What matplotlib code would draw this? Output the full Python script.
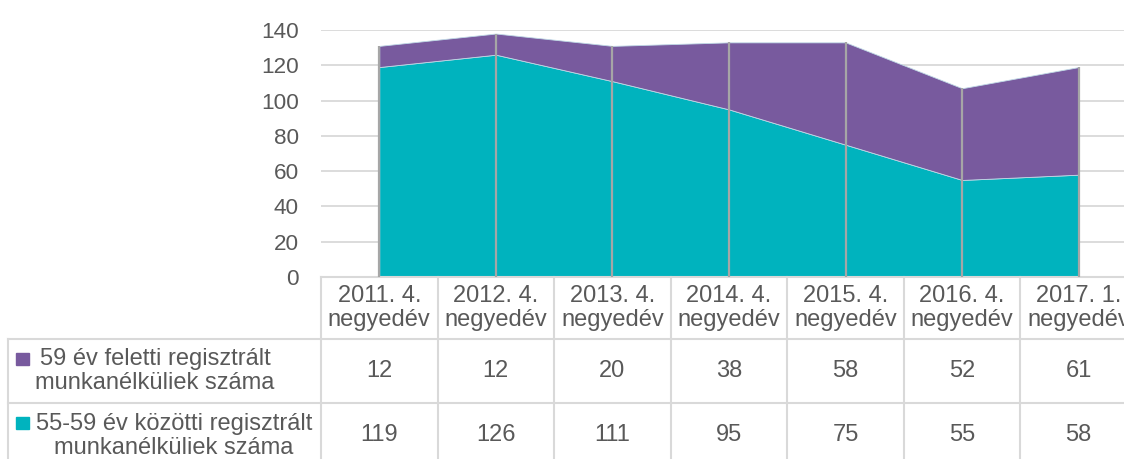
import matplotlib
matplotlib.use("Agg")
import matplotlib.pyplot as plt
from matplotlib.transforms import blended_transform_factory
from matplotlib.lines import Line2D
from matplotlib.patches import Rectangle

plt.rcParams['font.family'] = ['Liberation Sans', 'DejaVu Sans']

categories = ["2011. 4.\nnegyedév", "2012. 4.\nnegyedév", "2013. 4.\nnegyedév",
              "2014. 4.\nnegyedév", "2015. 4.\nnegyedév", "2016. 4.\nnegyedév",
              "2017. 1.\nnegyedév"]
series_55_59 = [119, 126, 111, 95, 75, 55, 58]
series_59_plus = [12, 12, 20, 38, 58, 52, 61]
label_59_plus = "59 év feletti regisztrált\nmunkanélküliek száma"
label_55_59 = "55-59 év közötti regisztrált\nmunkanélküliek száma"
yticks = [0, 20, 40, 60, 80, 100, 120, 140]

TEAL = "#00B3BE"
PURPLE = "#785A9E"
TXT = "#595959"
GRID = "#D9D9D9"
FS = 17

W, H = 1124, 459
fig = plt.figure(figsize=(W / 100, H / 100), dpi=100)
ax = fig.add_axes([321 / W, (H - 277) / H, 816 / W, 247 / H])

x = list(range(len(categories)))
ax.stackplot(x, series_55_59, series_59_plus, colors=[TEAL, PURPLE],
             edgecolor="#BFD9E6", linewidth=0.6, zorder=2)
totals = [a + b for a, b in zip(series_55_59, series_59_plus)]
ax.vlines(x, 0, totals, colors="#A6A6A6", linewidth=1.6, zorder=3)

ax.set_xlim(-0.5, len(categories) - 0.5)
ax.set_ylim(0, 140)
ax.set_yticks(yticks)
ax.set_xticks([])
ax.tick_params(axis='y', length=0, pad=15.8, labelsize=16.2, labelcolor=TXT)
ax.yaxis.grid(True, color=GRID, linewidth=1.3, zorder=0)
ax.set_axisbelow(True)
for s in ["left", "right", "top"]:
    ax.spines[s].set_visible(False)
ax.spines["bottom"].set_color(GRID)
ax.spines["bottom"].set_linewidth(1.5)

# data table
axh = 247.0
def fy(py):
    return -(py - 277) / axh

tr = blended_transform_factory(ax.transData, ax.transAxes)
fig_tr = blended_transform_factory(fig.transFigure, ax.transAxes)

lw = 1.5
for i in range(len(categories) + 1):
    xb = i - 0.5
    ax.add_line(Line2D([xb, xb], [0, fy(470)], transform=tr, color=GRID,
                       linewidth=lw, clip_on=False))
for py in (339, 403):
    ax.add_line(Line2D([8 / W, 1.0], [fy(py), fy(py)], transform=fig_tr,
                       color=GRID, linewidth=lw, clip_on=False))
ax.add_line(Line2D([8 / W, 8 / W], [fy(339), fy(470)], transform=fig_tr,
                   color=GRID, linewidth=lw, clip_on=False))

for i, c in enumerate(categories):
    ax.text(i, fy(308), c, transform=tr, ha='center', va='center',
            fontsize=FS, color=TXT, linespacing=1.1, clip_on=False)
    ax.text(i, fy(371), str(series_59_plus[i]), transform=tr, ha='center',
            va='center', fontsize=FS, color=TXT, clip_on=False)
    ax.text(i, fy(435), str(series_55_59[i]), transform=tr, ha='center',
            va='center', fontsize=FS, color=TXT, clip_on=False)

fig.text(155 / W, 1 - 371 / H, label_59_plus, ha='center', va='center',
         fontsize=FS, color=TXT, linespacing=1.1)
fig.text(174 / W, 1 - 436 / H, label_55_59, ha='center', va='center',
         fontsize=FS, color=TXT, linespacing=1.1)
fig.patches.append(Rectangle((16 / W, 1 - 365 / H), 13 / W, 12 / H,
                             transform=fig.transFigure, color=PURPLE))
fig.patches.append(Rectangle((16 / W, 1 - 429 / H), 13 / W, 12 / H,
                             transform=fig.transFigure, color=TEAL))

fig.savefig("out.png", dpi=100)
